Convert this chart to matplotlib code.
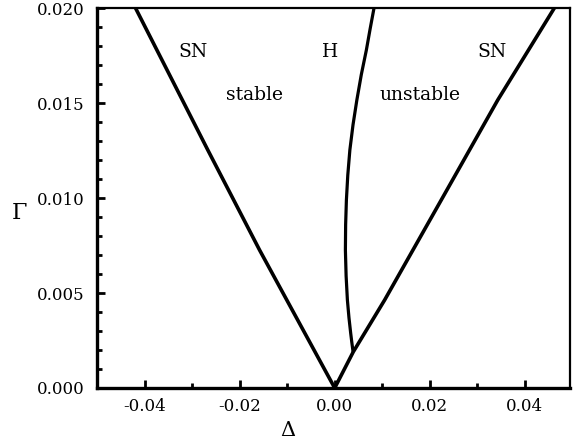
import numpy as np
import matplotlib
matplotlib.use("Agg")
import matplotlib.pyplot as plt
from matplotlib.ticker import MultipleLocator, FormatStrFormatter

plt.rcParams['font.family'] = ['DejaVu Serif']
plt.rcParams['axes.unicode_minus'] = False

# saddle-node branch, left side (detuning, damping)
sn_left_delta = [-0.0419, -0.0267, -0.0158, 0.0]
sn_left_gamma = [0.0200, 0.01253, 0.00726, 0.0]

# saddle-node branch, right side
sn_right_delta = [0.0, 0.0039, 0.0105, 0.0224, 0.0343, 0.0462]
sn_right_gamma = [0.0, 0.0019, 0.00463, 0.00989, 0.01516, 0.0200]

# Hopf branch, from the SN line up to the top
hopf_delta = [0.00386, 0.00360, 0.00336, 0.00300, 0.00267, 0.00240, 0.00225, 0.00230,
              0.00246, 0.00275, 0.00319, 0.00385, 0.00466, 0.00560, 0.00666, 0.00745, 0.00827]
hopf_gamma = [0.00191, 0.00240, 0.00289, 0.00370, 0.00463, 0.00590, 0.00726, 0.00860,
              0.00989, 0.01120, 0.01253, 0.01385, 0.01516, 0.01650, 0.01779, 0.01890, 0.0200]

# region / branch labels
label_text = ["SN", "H", "SN", "stable", "unstable"]
label_x = [-0.0299, -0.0010, 0.0331, -0.0169, 0.0180]
label_y = [0.01768, 0.01768, 0.01768, 0.01542, 0.01542]

fig = plt.figure(figsize=(5.73, 4.47), dpi=100)
ax = fig.add_axes([0.1693, 0.132, 0.8255, 0.850])

ax.plot(sn_left_delta, sn_left_gamma, color='black', lw=2.6, solid_capstyle='butt')
ax.plot(sn_right_delta, sn_right_gamma, color='black', lw=2.6, solid_capstyle='butt')
ax.plot(hopf_delta, hopf_gamma, color='black', lw=2.3, solid_capstyle='butt')

for t, x, y in zip(label_text, label_x, label_y):
    ax.text(x, y, t, fontsize=13.5, ha='center', va='center')

ax.set_xlim(-0.05, 0.0495)
ax.set_ylim(0.0, 0.020)

ax.xaxis.set_major_locator(MultipleLocator(0.02))
ax.xaxis.set_minor_locator(MultipleLocator(0.01))
ax.yaxis.set_major_locator(MultipleLocator(0.005))
ax.yaxis.set_minor_locator(MultipleLocator(0.001))
ax.xaxis.set_major_formatter(FormatStrFormatter('%.2f'))
ax.yaxis.set_major_formatter(FormatStrFormatter('%.3f'))

ax.tick_params(which='both', direction='in', top=False, right=False, labelsize=12)
ax.tick_params(which='major', length=6, width=2)
ax.tick_params(which='minor', length=3.5, width=2)
ax.tick_params(axis='x', pad=7)
ax.tick_params(axis='y', pad=9)

for side in ['left', 'bottom']:
    ax.spines[side].set_linewidth(2.4)
for side in ['top', 'right']:
    ax.spines[side].set_linewidth(1.6)

ax.set_xlabel('Δ', fontsize=15, va='center')
ax.xaxis.set_label_coords(0.404, -0.112)
ax.set_ylabel('Γ', fontsize=16, rotation=0, va='center')
ax.yaxis.set_label_coords(-0.165, 0.46)

fig.savefig('out.png', dpi=100)
